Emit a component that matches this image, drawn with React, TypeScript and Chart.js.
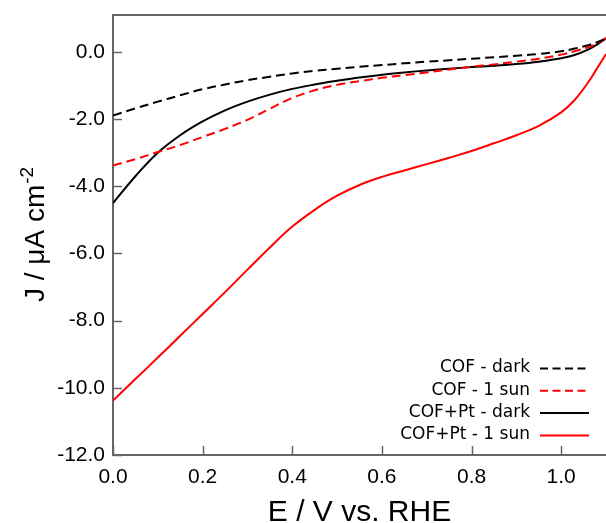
import React, { useEffect, useRef } from "react";
import { Chart, registerables } from "chart.js";
Chart.register(...registerables);

// Potential grid (V vs. RHE)
const E = [0, 0.05, 0.1, 0.15, 0.2, 0.25, 0.3, 0.35, 0.4, 0.45, 0.5, 0.55, 0.6, 0.65, 0.7, 0.75, 0.8, 0.85, 0.9, 0.95, 1.0, 1.03, 1.06, 1.08, 1.1];

// Current density (µA cm^-2)
const cofDark = [-1.89, -1.68, -1.48, -1.29, -1.11, -0.97, -0.84, -0.74, -0.64, -0.56, -0.5, -0.44, -0.39, -0.34, -0.29, -0.25, -0.2, -0.16, -0.11, -0.06, 0.02, 0.1, 0.2, 0.29, 0.4];
const cofSun = [-3.38, -3.19, -2.98, -2.77, -2.53, -2.29, -2.02, -1.69, -1.37, -1.14, -0.98, -0.87, -0.77, -0.69, -0.61, -0.52, -0.44, -0.37, -0.29, -0.2, -0.08, 0.02, 0.14, 0.25, 0.42];
const cofPtDark = [-4.5, -3.7, -3.0, -2.48, -2.07, -1.74, -1.48, -1.27, -1.1, -0.97, -0.86, -0.76, -0.68, -0.61, -0.55, -0.5, -0.45, -0.41, -0.36, -0.29, -0.19, -0.09, 0.07, 0.22, 0.4];
const cofPtSun = [-10.38, -9.74, -9.1, -8.45, -7.8, -7.15, -6.48, -5.82, -5.2, -4.7, -4.28, -3.96, -3.72, -3.53, -3.34, -3.15, -2.95, -2.72, -2.48, -2.2, -1.8, -1.43, -0.91, -0.49, -0.06];

const seriesLabels = ["COF - dark", "COF - 1 sun", "COF+Pt - dark", "COF+Pt - 1 sun"];
const seriesColors = ["#000000", "#ff0000", "#000000", "#ff0000"];
const seriesDashed = [true, true, false, false];

const xTicks = [0, 0.2, 0.4, 0.6, 0.8, 1.0];
const yTicks = [-12, -10, -8, -6, -4, -2, 0];
const xTitle = "E / V vs. RHE";
const yTitleMain = "J / μA cm";
const yTitleSup = "-2";

const AXIS = "#666666";
const SANS = '"Liberation Sans", Arial, sans-serif';
const LEGEND_FONT = '"DejaVu Sans", Verdana, sans-serif';

const decorPlugin = {
  id: "decor",
  afterDraw(chart: any) {
    const ctx = chart.ctx;
    const ca = chart.chartArea;
    const xs = chart.scales.x;
    const ys = chart.scales.y;
    ctx.save();
    // top frame
    ctx.strokeStyle = AXIS;
    ctx.lineWidth = 2;
    ctx.beginPath();
    ctx.moveTo(ca.left, ca.top);
    ctx.lineTo(ca.right, ca.top);
    ctx.stroke();
    // inner ticks
    ctx.lineWidth = 1.5;
    for (const v of xTicks) {
      const px = Math.round(xs.getPixelForValue(v)) + 0.5;
      ctx.beginPath();
      ctx.moveTo(px, ca.bottom);
      ctx.lineTo(px, ca.bottom - 9);
      ctx.stroke();
    }
    for (const v of yTicks) {
      const py = Math.round(ys.getPixelForValue(v)) + 0.5;
      ctx.beginPath();
      ctx.moveTo(ca.left, py);
      ctx.lineTo(ca.left + 9, py);
      ctx.stroke();
    }
    // x title
    ctx.fillStyle = "#000";
    ctx.font = "30px " + SANS;
    ctx.textAlign = "center";
    ctx.textBaseline = "alphabetic";
    ctx.fillText(xTitle, (ca.left + ca.right) / 2, ca.bottom + 66);
    // y title (rotated, with superscript)
    ctx.save();
    ctx.translate(44, ca.bottom - 153);
    ctx.rotate(-Math.PI / 2);
    ctx.textAlign = "left";
    ctx.font = "28px " + SANS;
    const w1 = ctx.measureText(yTitleMain).width;
    ctx.fillText(yTitleMain, 0, 0);
    ctx.font = "19px " + SANS;
    ctx.fillText(yTitleSup, w1 + 1, -11);
    ctx.restore();
    // legend
    ctx.font = "17px " + LEGEND_FONT;
    ctx.textAlign = "right";
    ctx.textBaseline = "middle";
    chart.data.datasets.forEach((ds: any, i: number) => {
      const y = ca.bottom - 87 + i * 22.3;
      ctx.fillStyle = "#000";
      ctx.fillText(ds.label, 530, y);
      ctx.strokeStyle = ds.borderColor;
      ctx.lineWidth = 2;
      ctx.setLineDash(seriesDashed[i] ? [8, 4.5] : []);
      ctx.beginPath();
      ctx.moveTo(540, y + 0.5);
      ctx.lineTo(589, y + 0.5);
      ctx.stroke();
    });
    ctx.setLineDash([]);
    ctx.restore();
  },
};

export default function App() {
  const ref = useRef<HTMLCanvasElement | null>(null);
  useEffect(() => {
    if (!ref.current) return;
    const allSeries = [cofDark, cofSun, cofPtDark, cofPtSun];
    const chart = new Chart(ref.current, {
      type: "line",
      data: {
        datasets: allSeries.map((arr, i) => ({
          label: seriesLabels[i],
          data: E.map((x, k) => ({ x, y: arr[k] })),
          borderColor: seriesColors[i],
          backgroundColor: seriesColors[i],
          borderWidth: 2,
          borderDash: seriesDashed[i] ? [9, 5] : [],
          pointRadius: 0,
          tension: 0.4,
          fill: false,
        })),
      },
      options: {
        responsive: false,
        animation: false,
        devicePixelRatio: 1,
        layout: { padding: { top: 15, left: 0, right: 0, bottom: 0 } },
        plugins: { legend: { display: false }, tooltip: { enabled: false }, title: { display: false } },
        scales: {
          x: {
            type: "linear",
            min: 0,
            max: 1.1,
            grid: { display: true, drawOnChartArea: false, drawTicks: false },
            border: { display: true, color: AXIS, width: 2 },
            afterBuildTicks: (s: any) => {
              s.ticks = xTicks.map((v) => ({ value: v }));
            },
            afterFit: (s: any) => {
              s.height = 68;
              s.paddingLeft = 0;
              s.paddingRight = 0;
            },
            ticks: {
              padding: 10,
              color: "#000",
              font: { family: SANS, size: 21 },
              callback: (v: any) => Number(v).toFixed(1),
            },
          },
          y: {
            type: "linear",
            min: -12,
            max: 1.1,
            grid: { display: true, drawOnChartArea: false, drawTicks: false },
            border: { display: true, color: AXIS, width: 2 },
            afterBuildTicks: (s: any) => {
              s.ticks = yTicks.map((v) => ({ value: v }));
            },
            afterFit: (s: any) => {
              s.width = 113;
              s.paddingTop = 0;
              s.paddingBottom = 0;
            },
            ticks: {
              padding: 8,
              color: "#000",
              font: { family: SANS, size: 21 },
              callback: (v: any) => Number(v).toFixed(1),
            },
          },
        },
      },
      plugins: [decorPlugin],
    } as any);
    return () => chart.destroy();
  }, []);
  return (
    <div style={{ position: "absolute", left: 0, top: 0, width: 606, height: 523, background: "#fff" }}>
      <canvas ref={ref} width={606} height={523} style={{ display: "block" }} />
    </div>
  );
}
